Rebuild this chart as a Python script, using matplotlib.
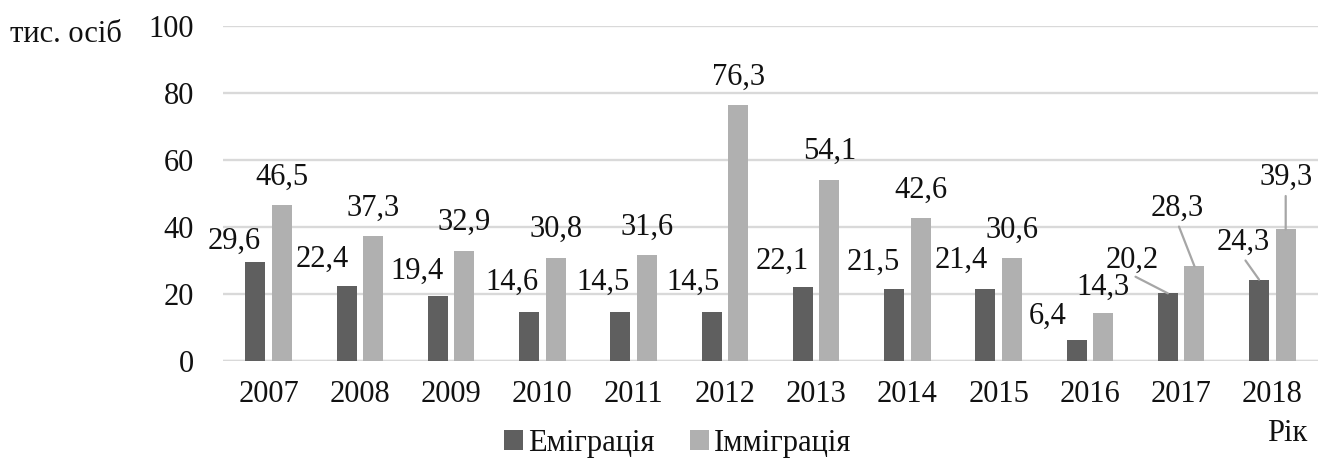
import matplotlib.pyplot as plt
import numpy as np

years = ["2007", "2008", "2009", "2010", "2011", "2012",
         "2013", "2014", "2015", "2016", "2017", "2018"]
emigration = [29.6, 22.4, 19.4, 14.6, 14.5, 14.5, 22.1, 21.5, 21.4, 6.4, 20.2, 24.3]
immigration = [46.5, 37.3, 32.9, 30.8, 31.6, 76.3, 54.1, 42.6, 30.6, 14.3, 28.3, 39.3]

# label offsets in pixels from the bar top (x, y), leader line for the last two
emi_offsets = [(-21, 21), (-24, 27), (-21, 25), (-17, 30), (-17, 30), (-19, 30),
               (-21, 26), (-21, 27), (-24, 29), (-29, 23), (-36, 33), (-16, 37)]
emi_leader = [False] * 10 + [True, True]
imm_offsets = [(0, 28)] * 9 + [(0, 26), (-17, 58), (0, 52)]
imm_leader = [False] * 10 + [True, True]

dark = "#5f5f5f"
light = "#b0b0b0"
grid_col = "#d9d9d9"
txt = "#111111"
fs = 22

plt.rcParams['font.family'] = ['Liberation Serif', 'DejaVu Serif']

fig = plt.figure(figsize=(13.28, 4.61), dpi=100)
ax = fig.add_axes([223 / 1328, 1 - 361 / 461, (1318 - 223) / 1328, (361 - 26) / 461])

x = np.arange(len(years))
w = 0.22
off = 0.146
b1 = ax.bar(x - off, emigration, w, color=dark, zorder=3, label="Еміграція")
b2 = ax.bar(x + off, immigration, w, color=light, zorder=3, label="Імміграція")

ax.set_xlim(-0.5, len(years) - 0.5)
ax.set_ylim(0, 100)
ax.set_yticks(range(0, 101, 20))
ax.set_xticks(x)
ax.set_xticklabels(years)
ax.yaxis.grid(True, color=grid_col, lw=1.7, zorder=0)
ax.set_axisbelow(True)
for s in ax.spines.values():
    s.set_visible(False)
ax.axhline(0, color=grid_col, lw=1.7, zorder=1)
ax.tick_params(axis='both', length=0, labelsize=fs, colors=txt)
ax.tick_params(axis='y', pad=21)
ax.tick_params(axis='x', pad=14)


def fmt(v):
    return f"{v:.1f}".replace(".", ",")


def put_labels(xs, vals, offsets, leaders):
    for xi, v, (dx, dy), ld in zip(xs, vals, offsets, leaders):
        props = None
        if ld:
            props = dict(arrowstyle='-', color="#a6a6a6", lw=1.6, relpos=(0.5, 0),
                         patchA=None, shrinkA=3, shrinkB=0)
        ax.annotate(fmt(v), xy=(xi, v), xytext=(dx, dy), textcoords='offset pixels',
                    ha='center', va='center', fontsize=fs, color=txt,
                    arrowprops=props, zorder=4)


put_labels(x - off, emigration, emi_offsets, emi_leader)
put_labels(x + off, immigration, imm_offsets, imm_leader)

fig.text(10 / 1328, 1 - 35 / 461, "тис. осіб", fontsize=fs, color=txt,
         ha='left', va='center')
fig.text(1287 / 1328, 1 - 433 / 461, "Рік", fontsize=fs, color=txt,
         ha='center', va='center')

fig.legend(handles=[b1, b2], loc='center left', bbox_to_anchor=(504 / 1328, 1 - 443 / 461),
           frameon=False, fontsize=fs, ncol=2, borderpad=0, borderaxespad=0,
           handlelength=0.62, handleheight=0.62, handletextpad=0.17,
           columnspacing=1.15, labelcolor=txt)

fig.savefig("out.png", dpi=100)
